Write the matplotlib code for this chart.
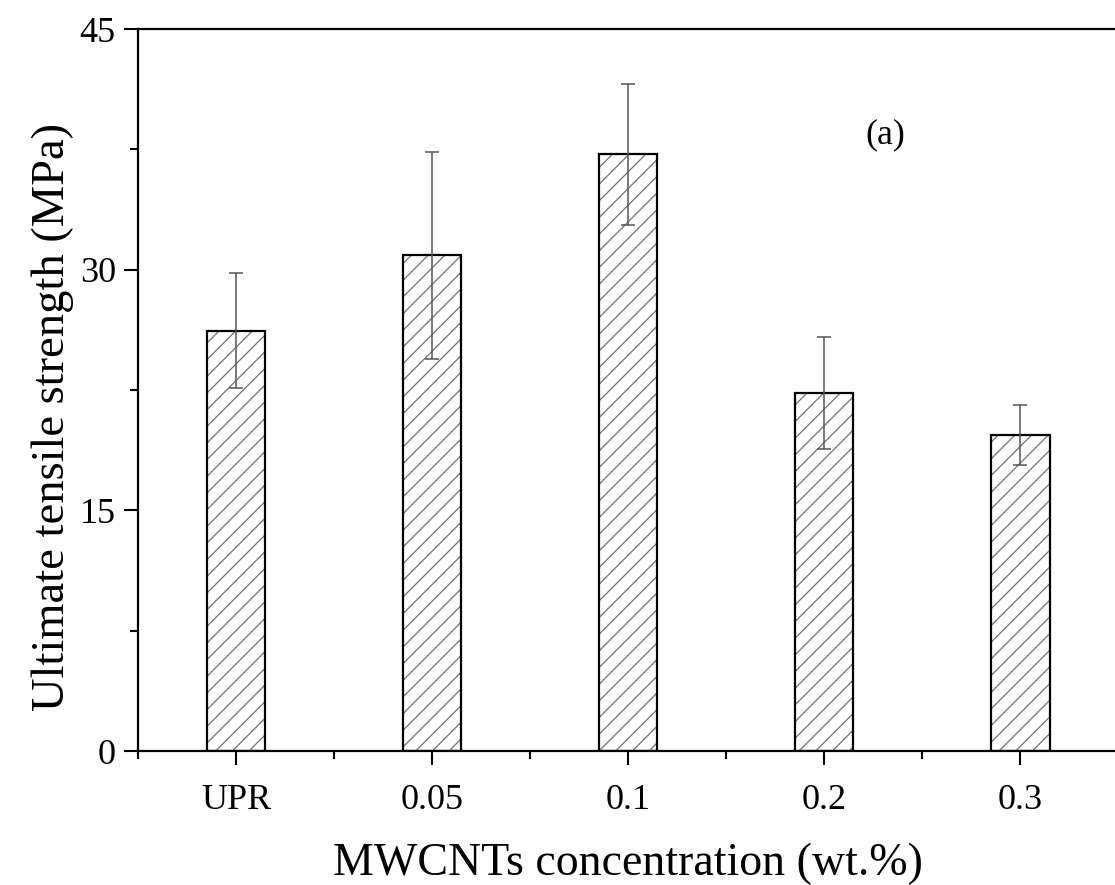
import numpy as np
import matplotlib
matplotlib.use("Agg")
import matplotlib.pyplot as plt
from matplotlib.ticker import MultipleLocator, FixedLocator

categories = ["UPR", "0.05", "0.1", "0.2", "0.3"]
strength = [26.2, 30.9, 37.2, 22.3, 19.7]
error = [3.6, 6.45, 4.4, 3.5, 1.85]

plt.rcParams['font.family'] = ['Liberation Serif', 'DejaVu Serif']
plt.rcParams['hatch.linewidth'] = 0.9

fig = plt.figure(figsize=(11.15, 8.85), dpi=100)
ax = fig.add_axes([0.1238, 0.1514, 0.879, 0.8158])

x = np.arange(len(categories))
# hatch first, outline on top
ax.bar(x, strength, width=0.3, color='white', edgecolor='#707070', hatch='//', linewidth=0)
ax.bar(x, strength, width=0.3, fill=False, edgecolor='black', linewidth=1.6)
ax.errorbar(x, strength, yerr=error, fmt='none', ecolor='#555555', elinewidth=1.1,
            capsize=5, capthick=1.1)

ax.set_xlim(-0.5, 4.5)
ax.set_ylim(0, 45)
ax.set_xticks(x)
ax.set_xticklabels(categories)
ax.xaxis.set_minor_locator(FixedLocator(np.arange(-0.5, 5, 1)))
ax.yaxis.set_major_locator(MultipleLocator(15))
ax.yaxis.set_minor_locator(MultipleLocator(7.5))
ax.tick_params(which='major', direction='out', length=10, width=1.5, labelsize=26)
ax.tick_params(axis='x', which='major', pad=14)
ax.tick_params(axis='y', which='major', pad=6)
ax.tick_params(which='minor', direction='out', length=6, width=1.5)
ax.tick_params(top=False, right=False)
for s in ax.spines.values():
    s.set_linewidth(1.6)

ax.set_xlabel("MWCNTs concentration (wt.%)", fontsize=33, labelpad=18)
ax.set_ylabel("Ultimate tensile strength (MPa)", fontsize=33.5)
ax.yaxis.set_label_coords(-0.065, 0.463)
ax.text(3.31, 38.4, "(a)", fontsize=26, ha='center', va='center')

fig.savefig("out.png", dpi=100)
